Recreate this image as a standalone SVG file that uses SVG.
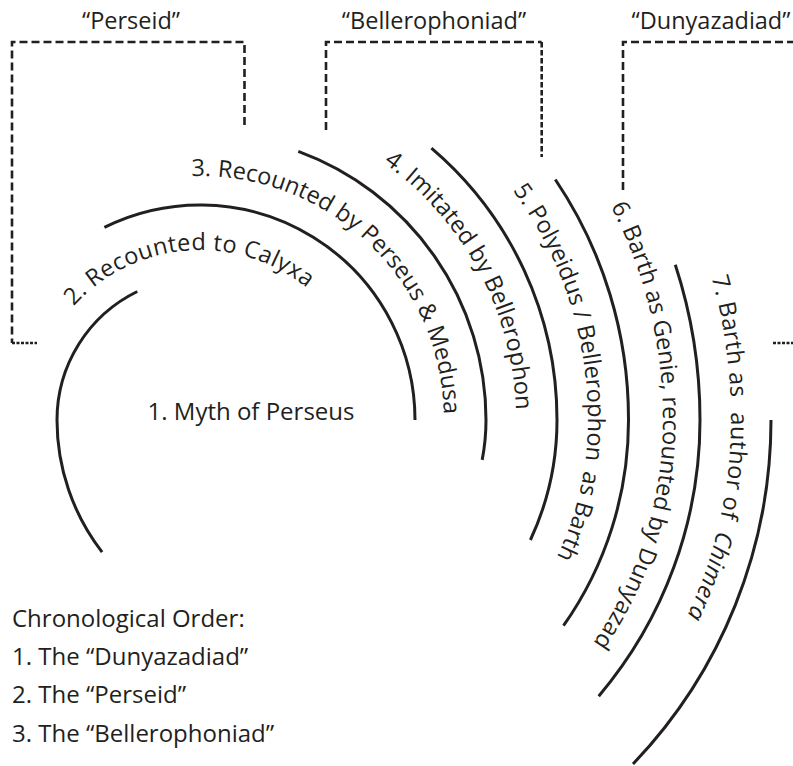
<svg xmlns="http://www.w3.org/2000/svg" width="793" height="766" viewBox="0 0 793 766">
<style>
  .arc { fill: none; stroke: #231f20; stroke-width: 3; }
  .br { fill: none; stroke: #231f20; stroke-width: 2.6; stroke-dasharray: 8 4; }
  .brf { fill: none; stroke: #231f20; stroke-width: 2.6; stroke-dasharray: 5.5 2.5; }
  .brd { fill: none; stroke: #231f20; stroke-width: 2.6; stroke-dasharray: 3 1.5; }
  .t { font-family: "Open Sans", "Noto Sans", sans-serif; fill: #231f20; }
  .lab { font-size: 23.5px; }
  .arct { font-size: 23.5px; }
</style>
<defs>
  <path id="p2" d="M 73.7 306.3 A 170 170 0 0 1 347.2 335"/>
  <path id="p3" d="M 191.5 176.1 A 244 244 0 0 1 444 420 A 171 171 0 0 1 421.1 505.5"/>
  <path id="p4" d="M 383.5 162.7 A 316 316 0 0 1 516 420 A 243 243 0 0 1 459.1 576.2"/>
  <path id="p5" d="M 512.7 190.3 A 388 388 0 0 1 588 420 A 315 315 0 0 1 430.5 692.8"/>
  <path id="p6" d="M 610.7 206.2 A 463 463 0 0 1 663 420 A 390 390 0 0 1 406.4 786.5"/>
  <path id="p7" d="M 711.5 277.2 A 531 531 0 0 1 731 420 A 458 458 0 0 1 429.6 850.4"/>
</defs>

<g id="brackets">
  <g id="bracket-perseid">
    <path class="br" d="M 244.5 125 V 42 H 12 V 343"/>
    <path class="brd" d="M 12 343 H 37"/>
    <text class="t lab" x="131" y="29" text-anchor="middle">“Perseid”</text>
  </g>
  <g id="bracket-bellerophoniad">
    <path class="br" d="M 326 130 V 42 H 541.7"/>
    <path class="brf" d="M 541.7 42 V 157"/>
    <text class="t lab" x="434" y="29" text-anchor="middle">“Bellerophoniad”</text>
  </g>
  <g id="bracket-dunyazadiad">
    <path class="br" d="M 623 190 V 42 H 800"/>
    <path class="brd" d="M 773 343 H 795"/>
    <text class="t lab" x="711" y="29" text-anchor="middle">“Dunyazadiad”</text>
  </g>
</g>

<g id="connectors">
  <path id="arc1" class="arc" d="M 137.3 291.5 A 143 143 0 0 0 57 420 A 216 216 0 0 0 102.1 552.1"/>
  <path id="arc2" class="arc" d="M 104.4 227.4 A 215 215 0 0 1 415 420"/>
  <path id="arc3" class="arc" d="M 298.3 151.4 A 286 286 0 0 1 486 420 A 213 213 0 0 1 482.2 459.9"/>
  <path id="arc4" class="arc" d="M 431.4 148.1 A 357 357 0 0 1 557 420 A 284 284 0 0 1 530.4 540"/>
  <path id="arc5" class="arc" d="M 555.3 179.5 A 428.5 428.5 0 0 1 628.5 420 A 355.5 355.5 0 0 1 563.5 625.7"/>
  <path id="arc6" class="arc" d="M 675.3 264.7 A 500 500 0 0 1 700 420 A 427 427 0 0 1 598.7 696.2"/>
  <path id="arc7" class="arc" d="M 771 420 A 498 498 0 0 1 633 764"/>
</g>

<g id="n1"><text class="t" font-size="24" x="251" y="420" text-anchor="middle">1. Myth of Perseus</text></g>
<g id="n2"><text class="t arct" font-size="24.5" letter-spacing="0.4"><textPath href="#p2">2. Recounted to Calyxa</textPath></text></g>
<g id="n3"><text class="t arct"><textPath href="#p3">3. Recounted by Perseus &amp; Medusa</textPath></text></g>
<g id="n4"><text class="t arct"><textPath href="#p4">4. Imitated by Bellerophon</textPath></text></g>
<g id="n5"><text class="t arct"><textPath href="#p5">5. Polyeidus / Bellerophon <tspan dx="4">as Barth</tspan></textPath></text></g>
<g id="n6"><text class="t arct"><textPath href="#p6">6. Barth as Genie, recounted by Dunyazad</textPath></text></g>
<g id="n7"><text class="t arct" letter-spacing="0.5"><textPath href="#p7">7. Barth as <tspan dx="8">author of </tspan><tspan dx="6" font-style="italic">Chimera</tspan></textPath></text></g>

<g id="legend">
  <text class="t" font-size="24" x="12" y="627">Chronological Order:</text>
  <text class="t" font-size="24" x="12" y="665">1. The “Dunyazadiad”</text>
  <text class="t" font-size="24" x="12" y="703">2. The “Perseid”</text>
  <text class="t" font-size="24" x="12" y="742">3. The “Bellerophoniad”</text>
</g>
</svg>
